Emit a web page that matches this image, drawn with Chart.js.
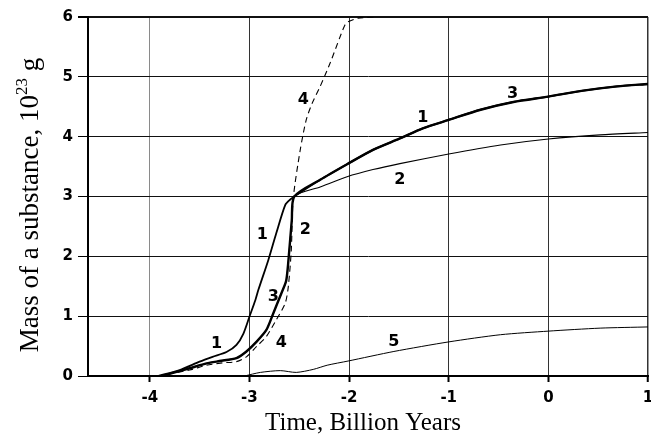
<!DOCTYPE html>
<html>
<head>
<meta charset="utf-8">
<script src="https://cdn.jsdelivr.net/npm/chart.js@4"></script>
<style>
html,body{margin:0;padding:0;background:#fff;}
#wrap{width:651px;height:435px;}
</style>
</head>
<body>
<div id="wrap"><canvas id="c" width="651" height="435"></canvas></div>
<script>
// ---- data ----
const xTicks = [-4, -3, -2, -1, 0, 1];
const yTicks = [0, 1, 2, 3, 4, 5, 6];

// curve 1, lower branch (to the junction)
const c1LowX = [-3.92, -3.70, -3.50, -3.37, -3.23, -3.13, -3.06, -3.00, -2.94, -2.91, -2.81, -2.73, -2.64, -2.59, -2.55];
const c1LowY = [0.00, 0.10, 0.24, 0.32, 0.40, 0.52, 0.71, 0.99, 1.27, 1.44, 1.94, 2.39, 2.86, 2.95, 3.00];
// curves 2 and 3, common lower branch (to the junction)
const c23LowX = [-3.88, -3.60, -3.43, -3.30, -3.13, -3.03, -2.93, -2.83, -2.76, -2.68, -2.63, -2.60, -2.575, -2.55];
const c23LowY = [0.00, 0.13, 0.21, 0.25, 0.30, 0.41, 0.57, 0.77, 1.05, 1.38, 1.60, 2.10, 2.60, 3.00];
// curves 1 and 3, common upper branch
const c13UpX = [-2.55, -2.29, -2.02, -1.76, -1.49, -1.26, -1.00, -0.68, -0.35, 0.00, 0.35, 0.69, 1.00];
const c13UpY = [3.00, 3.28, 3.54, 3.78, 3.97, 4.14, 4.28, 4.45, 4.58, 4.67, 4.77, 4.84, 4.88];
// curve 2, upper branch
const c2UpX = [-2.55, -2.29, -2.02, -1.76, -1.49, -1.00, -0.48, 0.00, 0.52, 1.00];
const c2UpY = [3.00, 3.16, 3.33, 3.45, 3.55, 3.71, 3.86, 3.96, 4.03, 4.07];
// curve 4 (dashed)
const c4X = [-3.92, -3.60, -3.43, -3.27, -3.13, -3.03, -2.93, -2.83, -2.73, -2.64, -2.61, -2.58, -2.56, -2.49, -2.43, -2.37, -2.29, -2.19, -2.09, -2.04, -2.01, -1.91, -1.75];
const c4Y = [0.00, 0.10, 0.18, 0.22, 0.24, 0.32, 0.49, 0.66, 0.94, 1.22, 1.49, 2.10, 2.97, 3.78, 4.28, 4.56, 4.84, 5.23, 5.67, 5.87, 5.92, 5.98, 6.00];
// curve 5
const c5X = [-3.05, -2.89, -2.69, -2.53, -2.36, -2.22, -2.01, -1.55, -1.00, -0.48, 0.00, 0.52, 1.00];
const c5Y = [0.00, 0.06, 0.09, 0.06, 0.11, 0.18, 0.25, 0.41, 0.57, 0.69, 0.75, 0.80, 0.82];

// curve number labels (text, x, y in data units)
const labelText = ['1', '3', '2', '4', '1', '2', '3', '1', '4', '5'];
const labelX = [-1.26, -0.36, -1.49, -2.46, -2.87, -2.44, -2.76, -3.33, -2.68, -1.55];
const labelY = [4.32, 4.71, 3.28, 4.61, 2.36, 2.44, 1.33, 0.53, 0.55, 0.57];

const xTitle = 'Time, Billion Years';
const yTitleMain = 'Mass of a substance, 10';
const yTitleSup = '23';
const yTitleEnd = ' g';

// ---- helpers ----
function pts(xs, ys) { return xs.map((x, i) => ({ x: x, y: ys[i] })); }
function join(a, b) { return a.concat(b.slice(1)); }

const curve1 = join(pts(c1LowX, c1LowY), pts(c13UpX, c13UpY));
const curve3 = join(pts(c23LowX, c23LowY), pts(c13UpX, c13UpY));
const curve2 = join(pts(c23LowX, c23LowY), pts(c2UpX, c2UpY));
const curve4 = pts(c4X, c4Y);
const curve5 = pts(c5X, c5Y);

function ds(label, data, width, dash) {
  return {
    label: label, data: data, borderColor: '#000', backgroundColor: '#000',
    borderWidth: width, borderDash: dash || [], pointRadius: 0, tension: 0.25,
    fill: false, showLine: true
  };
}

const labelPlugin = {
  id: 'curveLabels',
  afterDatasetsDraw(chart) {
    const ctx = chart.ctx, xs = chart.scales.x, ys = chart.scales.y;
    ctx.save();
    ctx.fillStyle = '#000';
    ctx.font = 'bold 16px "DejaVu Sans", sans-serif';
    ctx.textAlign = 'center';
    ctx.textBaseline = 'middle';
    labelText.forEach((t, i) => {
      ctx.fillText(t, xs.getPixelForValue(labelX[i]), ys.getPixelForValue(labelY[i]));
    });
    ctx.restore();
  }
};

const titlePlugin = {
  id: 'axisTitles',
  afterDraw(chart) {
    const ctx = chart.ctx, a = chart.chartArea;
    ctx.save();
    ctx.fillStyle = '#000';
    ctx.textBaseline = 'alphabetic';
    ctx.font = '25px "Liberation Serif", "Times New Roman", serif';
    ctx.textAlign = 'center';
    ctx.fillText(xTitle, (a.left + a.right) / 2 - 5, 430);
    // y title, rotated, with superscript
    ctx.translate(38, 205);
    ctx.rotate(-Math.PI / 2);
    ctx.textAlign = 'left';
    const big = '27px "Liberation Serif", "Times New Roman", serif';
    const small = '17px "Liberation Serif", "Times New Roman", serif';
    ctx.font = big;
    const w1 = ctx.measureText(yTitleMain).width;
    const w3 = ctx.measureText(yTitleEnd).width;
    ctx.font = small;
    const w2 = ctx.measureText(yTitleSup).width;
    let x0 = -(w1 + w2 + w3) / 2;
    ctx.font = big;
    ctx.fillText(yTitleMain, x0, 0);
    ctx.font = small;
    ctx.fillText(yTitleSup, x0 + w1, -11);
    ctx.font = big;
    ctx.fillText(yTitleEnd, x0 + w1 + w2, 0);
    ctx.restore();
  }
};

const tickFont = { family: '"DejaVu Sans", sans-serif', size: 15, weight: 'bold' };

new Chart(document.getElementById('c'), {
  type: 'scatter',
  data: {
    datasets: [
      ds('1', curve1, 1.8),
      ds('3', curve3, 2.4),
      ds('2', curve2, 1.1),
      ds('4', curve4, 1.1, [6, 4]),
      ds('5', curve5, 1.0)
    ]
  },
  options: {
    responsive: false,
    animation: false,
    devicePixelRatio: 1,
    layout: { padding: { left: 0, top: 17, right: 3, bottom: 0 } },
    plugins: { legend: { display: false }, tooltip: { enabled: false }, title: { display: false } },
    scales: {
      x: {
        type: 'linear', min: -4.62, max: 1,
        afterBuildTicks(s) { s.ticks = xTicks.map(v => ({ value: v })); },
        afterFit(s) { s.height = 59; s.paddingLeft = 0; s.paddingRight = 0; },
        border: { display: true, color: '#000', width: 2 },
        grid: {
          color: ctx => (ctx.tick && ctx.tick.value === -4) ? '#8a8a8a' : '#333',
          lineWidth: ctx => (ctx.tick && ctx.tick.value === 1) ? 1.5 : 1,
          tickLength: 6, drawTicks: true,
          tickColor: '#000', tickWidth: 2
        },
        ticks: { color: '#000', font: tickFont, padding: 7, maxRotation: 0 },
        title: { display: false }
      },
      y: {
        type: 'linear', min: 0, max: 6,
        afterBuildTicks(s) { s.ticks = yTicks.map(v => ({ value: v })); },
        afterFit(s) { s.width = 88; },
        border: { display: true, color: '#000', width: 2 },
        grid: {
          color: '#111',
          lineWidth: ctx => (ctx.tick && ctx.tick.value === 6) ? 2 : 1,
          tickLength: 10, drawTicks: true, tickColor: '#000'
        },
        ticks: { color: '#000', font: tickFont, padding: 5 },
        title: { display: false }
      }
    }
  },
  plugins: [labelPlugin, titlePlugin]
});
</script>
</body>
</html>
